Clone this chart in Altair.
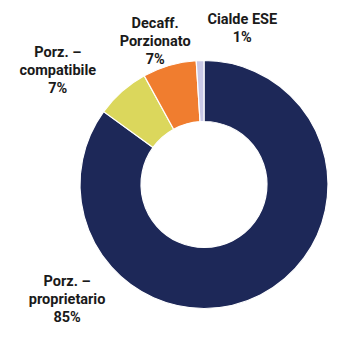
import altair as alt
import pandas as pd

categories = ["Porz. – proprietario", "Porz. – compatibile", "Decaff. Porzionato", "Cialde ESE"]
label_text = ["Porz. –\nproprietario", "Porz. –\ncompatibile", "Decaff.\nPorzionato", "Cialde ESE"]
values = [85, 7, 7, 1]
colors = ["#1d2858", "#dbd75c", "#f07d2f", "#c9c8e6"]

df = pd.DataFrame({"cat": categories, "value": values, "idx": list(range(len(values)))})
df["label"] = [f"{t}\n{v}%" for t, v in zip(label_text, values)]
df["mid"] = df["value"].cumsum() - df["value"] / 2
total = float(df["value"].sum())

theta_scale = alt.Scale(domain=[0, total])
color_scale = alt.Scale(domain=categories, range=colors)

arcs = alt.Chart(df).mark_arc(outerRadius=124, innerRadius=63, stroke="white", strokeWidth=1.2).encode(
    theta=alt.Theta("value:Q", stack=True, scale=theta_scale),
    order=alt.Order("idx:Q"),
    color=alt.Color("cat:N", scale=color_scale, legend=None),
)

# label placement (radius, dx, dy) per category
placement = {
    "Porz. – proprietario": (150, -205, -36.5),
    "Porz. – compatibile": (150, -47, -19.2),
    "Decaff. Porzionato": (150, -7, -16.2),
    "Cialde ESE": (150, 43, -14.3),
}

layers = [arcs]
for cat, (r, dx, dy) in placement.items():
    layers.append(
        alt.Chart(df).transform_filter(alt.datum.cat == cat).mark_text(
            radius=r, dx=dx, dy=dy, font="Roboto", fontWeight="bold", fontSize=14.5,
            lineHeight=18, lineBreak="\n", align="center", baseline="middle", color="#1a1a1a",
        ).encode(
            theta=alt.Theta("mid:Q", scale=theta_scale),
            text="label:N",
        )
    )

chart = alt.layer(*layers).properties(
    width=292, height=327,
    padding={"left": 58, "top": 21, "right": 0, "bottom": 0},
    autosize=alt.AutoSizeParams(type="none"),
    background="white",
).configure_view(strokeWidth=0)

chart.save("out.html", embed_options={"renderer": "svg", "actions": False})
